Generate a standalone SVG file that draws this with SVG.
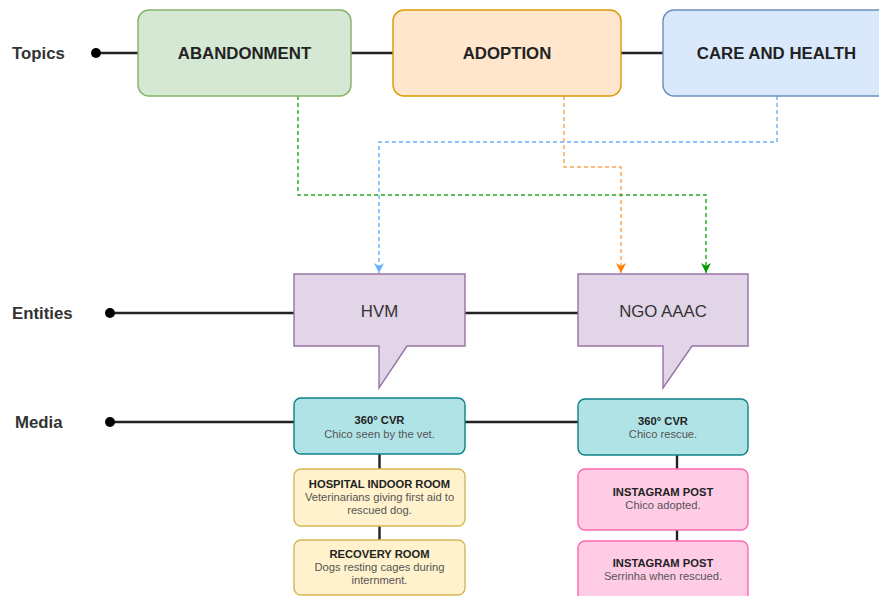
<svg xmlns="http://www.w3.org/2000/svg" width="879" height="596" viewBox="0 0 879 596">
  <defs>
    <style>
      .lbl { font-family: "Liberation Sans", Arial, sans-serif; font-size: 16.8px; font-weight: bold; fill: #333333; }
      .topic { font-family: "Liberation Sans", Arial, sans-serif; font-size: 16.8px; font-weight: bold; fill: #222222; text-anchor: middle; }
      .ent { font-family: "Liberation Sans", Arial, sans-serif; font-size: 16.8px; fill: #333333; text-anchor: middle; }
      .mt { font-family: "Liberation Sans", Arial, sans-serif; font-size: 11.2px; font-weight: bold; fill: #222222; text-anchor: middle; }
      .md { font-family: "Liberation Sans", Arial, sans-serif; font-size: 11.2px; fill: #555555; text-anchor: middle; }
      .axis { stroke: #222222; stroke-width: 2.6; fill: none; }
      .link { stroke: #222222; stroke-width: 2.4; fill: none; }
      .dot { fill: #000000; }
      .dash { fill: none; stroke-width: 1.4; stroke-dasharray: 4 3; }
      .entity { fill: #e1d5e7; stroke: #9673a6; stroke-width: 1.4; }
      .cvr { fill: #b0e3e6; stroke: #0e8088; stroke-width: 1.4; }
      .room { fill: #fff2cc; stroke: #d6b656; stroke-width: 1.4; }
      .post { fill: #ffcce6; stroke: #ff66b3; stroke-width: 1.4; }
    </style>
    <marker id="arrBlue" viewBox="0 0 10 10" refX="10" refY="5" markerWidth="10" markerHeight="10" markerUnits="userSpaceOnUse" orient="auto">
      <path d="M0 0 L10 5 L0 10 L3 5 Z" fill="#66b2ff"/>
    </marker>
    <marker id="arrOrange" viewBox="0 0 10 10" refX="10" refY="5" markerWidth="10" markerHeight="10" markerUnits="userSpaceOnUse" orient="auto">
      <path d="M0 0 L10 5 L0 10 L3 5 Z" fill="#ff8000"/>
    </marker>
    <marker id="arrGreen" viewBox="0 0 10 10" refX="10" refY="5" markerWidth="10" markerHeight="10" markerUnits="userSpaceOnUse" orient="auto">
      <path d="M0 0 L10 5 L0 10 L3 5 Z" fill="#009900"/>
    </marker>
  </defs>

  <rect width="879" height="596" fill="#ffffff"/>

  <!-- row labels -->
  <text class="lbl" x="12" y="59">Topics</text>
  <text class="lbl" x="12" y="319">Entities</text>
  <text class="lbl" x="15" y="428">Media</text>

  <!-- connectors -->
  <g id="connectors">
    <line class="axis" x1="96" y1="53" x2="138" y2="53"/>
    <circle class="dot" cx="96" cy="53" r="5"/>
    <line class="axis" x1="351" y1="53" x2="393" y2="53"/>
    <line class="axis" x1="621" y1="53" x2="663" y2="53"/>

    <line class="axis" x1="110" y1="313" x2="294" y2="313"/>
    <circle class="dot" cx="110" cy="313" r="5"/>
    <line class="axis" x1="465" y1="313" x2="578" y2="313"/>

    <line class="axis" x1="110" y1="422" x2="294" y2="422" stroke-width="2"/>
    <circle class="dot" cx="110" cy="422" r="5"/>
    <line class="axis" x1="465" y1="422" x2="578" y2="422" stroke-width="2"/>

    <line class="link" x1="379.5" y1="454" x2="379.5" y2="469"/>
    <line class="link" x1="379.5" y1="526" x2="379.5" y2="540"/>
    <line class="link" x1="677" y1="455" x2="677" y2="469"/>
    <line class="link" x1="677" y1="530" x2="677" y2="541"/>

    <path class="dash" stroke="#66b2ff" d="M777 96 V142 H379 V273" marker-end="url(#arrBlue)"/>
    <path class="dash" stroke="#ffa050" d="M564 96 V167 H621 V273" marker-end="url(#arrOrange)"/>
    <path class="dash" stroke="#22aa22" d="M298 96 V195 H706 V273" marker-end="url(#arrGreen)"/>
  </g>

  <!-- topics -->
  <g id="abandonment">
    <rect x="138" y="10" width="213" height="86" rx="11" fill="#d5e8d4" stroke="#82b366" stroke-width="1.4"/>
    <text class="topic" x="244.5" y="59">ABANDONMENT</text>
  </g>
  <g id="adoption">
    <rect x="393" y="10" width="228" height="86" rx="11" fill="#ffe6cc" stroke="#d79b00" stroke-width="1.4"/>
    <text class="topic" x="507" y="59">ADOPTION</text>
  </g>
  <g id="care-and-health">
    <rect x="663" y="10" width="227" height="86" rx="11" fill="#dae8fc" stroke="#6c8ebf" stroke-width="1.4"/>
    <text class="topic" x="776.5" y="59">CARE AND HEALTH</text>
  </g>

  <!-- entities -->
  <g id="hvm">
    <path class="entity" d="M294 274 H465 V346 H407 L379 388 V346 H294 Z"/>
    <text class="ent" x="379.5" y="317">HVM</text>
  </g>
  <g id="ngo-aaac">
    <path class="entity" d="M578 274 H748 V346 H692 L663 388 V346 H578 Z"/>
    <text class="ent" x="663" y="317">NGO AAAC</text>
  </g>

  <!-- media -->
  <g id="cvr-hvm">
    <rect class="cvr" x="294" y="398" width="171" height="56" rx="7"/>
    <text class="mt" x="379.5" y="424">360° CVR</text>
    <text class="md" x="379.5" y="438">Chico seen by the vet.</text>
  </g>
  <g id="hospital-indoor-room">
    <rect class="room" x="294" y="469" width="171" height="57" rx="7"/>
    <text class="mt" x="379.5" y="488">HOSPITAL INDOOR ROOM</text>
    <text class="md" x="379.5" y="501">Veterinarians giving first aid to</text>
    <text class="md" x="379.5" y="514">rescued dog.</text>
  </g>
  <g id="recovery-room">
    <rect class="room" x="294" y="540" width="171" height="55" rx="7"/>
    <text class="mt" x="379.5" y="558">RECOVERY ROOM</text>
    <text class="md" x="379.5" y="571">Dogs resting cages during</text>
    <text class="md" x="379.5" y="584">internment.</text>
  </g>
  <g id="cvr-ngo">
    <rect class="cvr" x="578" y="399" width="170" height="56" rx="7"/>
    <text class="mt" x="663" y="425">360° CVR</text>
    <text class="md" x="663" y="438">Chico rescue.</text>
  </g>
  <g id="instagram-adopted">
    <rect class="post" x="578" y="469" width="170" height="61" rx="7"/>
    <text class="mt" x="663" y="496">INSTAGRAM POST</text>
    <text class="md" x="663" y="509">Chico adopted.</text>
  </g>
  <g id="instagram-rescued">
    <rect class="post" x="578" y="541" width="170" height="62" rx="7"/>
    <text class="mt" x="663" y="567">INSTAGRAM POST</text>
    <text class="md" x="663" y="580">Serrinha when rescued.</text>
  </g>
</svg>
